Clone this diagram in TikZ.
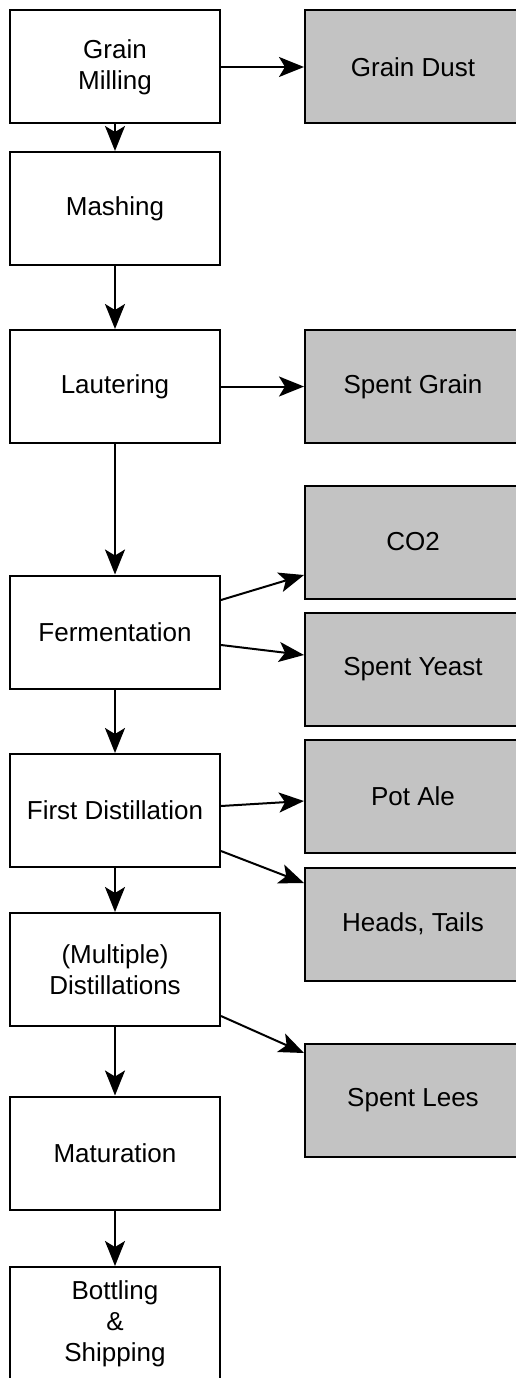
\documentclass[tikz,border=0pt]{standalone}
\usepackage{fontspec}
\setmainfont{Liberation Sans}
\usepackage{tikz}
\usetikzlibrary{arrows.meta,positioning}
\definecolor{waste}{HTML}{C3C3C3}
\tikzset{
  stage/.style={rectangle,draw=black,fill=white,line width=2pt,minimum width=210pt,
    minimum height=113pt,inner sep=0pt,align=center,font=\fontsize{26}{31}\selectfont},
  byprod/.style={stage,fill=waste,minimum width=216pt},
  flow/.style={->,line width=2pt}
}
\newcommand{\stagebox}[3]{
  \node[stage] (#1) at (115,#2) {#3};
}
\newcommand{\byprodbox}[3]{
  \node[byprod] (#1) at (413,#2) {#3};
}

\begin{document}
\begin{tikzpicture}[x=1pt,y=-1pt,>={Stealth[length=25pt,width=20pt,inset=6pt]}]
  \useasboundingbox (0,0) rectangle (516,1378);
  \clip (0,0) rectangle (516,1378);
  % main process
  \stagebox{milling}{67}{Grain\\Milling}
  \stagebox{mashing}{208.5}{Mashing}
  \stagebox{lautering}{386.5}{Lautering}
  \stagebox{ferment}{632}{Fermentation}
  \stagebox{firstdist}{810.5}{First Distillation}
  \stagebox{multidist}{969.5}{(Multiple)\\Distillations}
  \stagebox{maturation}{1153}{Maturation}
  \stagebox{bottling}{1323.5}{Bottling\\\&\\Shipping}
  % by-products
  \byprodbox{dust}{67}{Grain Dust}
  \byprodbox{spentgrain}{386.5}{Spent Grain}
  \byprodbox{co2}{542}{CO2}
  \byprodbox{yeast}{669.5}{Spent Yeast}
  \byprodbox{potale}{796.5}{Pot Ale}
  \byprodbox{heads}{924}{Heads, Tails}
  \byprodbox{lees}{1100.5}{Spent Lees}
  \draw[flow] (milling) -- (mashing);
  \draw[flow] (mashing) -- (lautering);
  \draw[flow] (lautering) -- (ferment);
  \draw[flow] (ferment) -- (firstdist);
  \draw[flow] (firstdist) -- (multidist);
  \draw[flow] (multidist) -- (maturation);
  \draw[flow] (maturation) -- (bottling);
  \draw[flow] (milling) -- (dust);
  \draw[flow] (lautering) -- (spentgrain);
  \draw[flow] ([yshift=32pt]ferment.east) -- ([yshift=-33pt]co2.west);
  \draw[flow] ([yshift=-13pt]ferment.east) -- ([yshift=14.5pt]yeast.west);
  \draw[flow] ([yshift=4.5pt]firstdist.east) -- ([yshift=-4.5pt]potale.west);
  \draw[flow] ([yshift=-40.5pt]firstdist.east) -- ([yshift=41pt]heads.west);
  \draw[flow] ([yshift=-46.5pt]multidist.east) -- ([yshift=47.5pt]lees.west);
\end{tikzpicture}
\end{document}
